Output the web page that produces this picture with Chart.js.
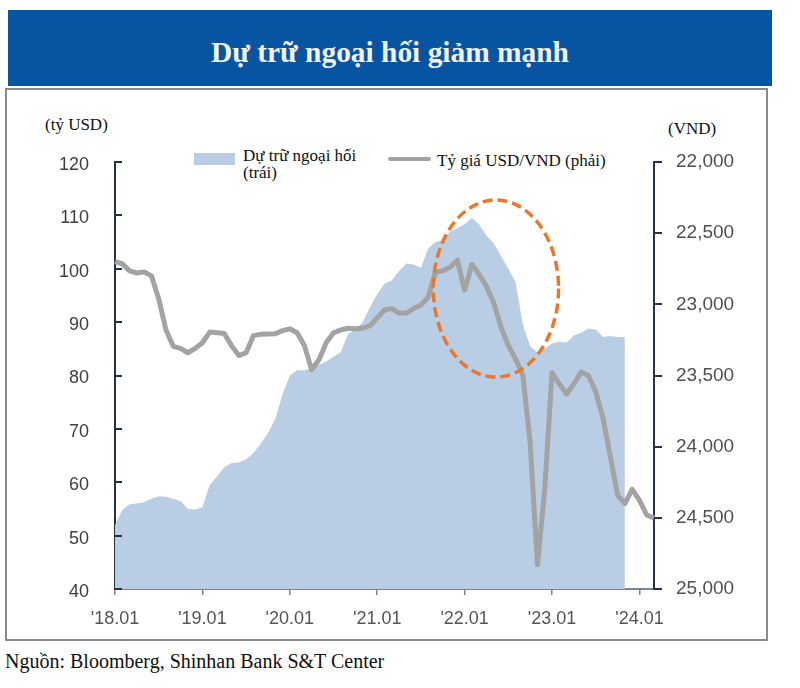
<!DOCTYPE html>
<html>
<head>
<meta charset="utf-8">
<script src="https://cdn.jsdelivr.net/npm/chart.js@4.4.1/dist/chart.umd.min.js"></script>
<style>
  html, body { margin: 0; padding: 0; background: #fff; }
  #wrap { position: relative; width: 800px; height: 688px; overflow: hidden;
          font-family: "Liberation Serif", "Times New Roman", serif; color: #111; }
  .abs { position: absolute; white-space: nowrap; }
  #banner { left: 8px; top: 10px; width: 764px; height: 76px; background: #0754a3; }
  #title { left: 8px; width: 764px; top: 35px; text-align: center; font-weight: bold;
           font-size: 30px; line-height: 33px; color: #f2f2f2; transform: scaleX(0.98); }
  #frame { left: 5px; top: 88px; width: 763px; height: 553px; border: 2px solid #8a8a8a; box-sizing: border-box; }
  .lbl { font-size: 17px; line-height: 17px; }
  #swatchArea { left: 194px; top: 153px; width: 41px; height: 12px; background: #b9cde5; }
  #swatchLine { left: 388px; top: 157px; width: 43px; height: 4px; background: #a3a3a3; border-radius: 2px; }
  #source { left: 5px; top: 651px; font-size: 20px; line-height: 20px; }
  canvas { position: absolute; left: 0; top: 0; }
</style>
</head>
<body>
<div id="wrap">
  <div class="abs" id="banner"></div>
  <div class="abs" id="title">Dự trữ ngoại hối giảm mạnh</div>
  <div class="abs" id="frame"></div>
  <div class="abs lbl" style="left:45px; top:116px;">(tỷ USD)</div>
  <div class="abs lbl" style="left:668px; top:120px;">(VND)</div>
  <div class="abs" id="swatchArea"></div>
  <div class="abs lbl" style="left:243px; top:147px;">Dự trữ ngoại hối<br>(trái)</div>
  <div class="abs" id="swatchLine"></div>
  <div class="abs lbl" style="left:437px; top:152px;">Tỷ giá USD/VND (phải)</div>
  <div class="abs" id="source">Nguồn: Bloomberg, Shinhan Bank S&amp;T Center</div>
  <canvas id="chart" width="800" height="688"></canvas>
</div>
<script>
const months = [
  '18.01','18.02','18.03','18.04','18.05','18.06','18.07','18.08','18.09','18.10','18.11','18.12',
  '19.01','19.02','19.03','19.04','19.05','19.06','19.07','19.08','19.09','19.10','19.11','19.12',
  '20.01','20.02','20.03','20.04','20.05','20.06','20.07','20.08','20.09','20.10','20.11','20.12',
  '21.01','21.02','21.03','21.04','21.05','21.06','21.07','21.08','21.09','21.10','21.11','21.12',
  '22.01','22.02','22.03','22.04','22.05','22.06','22.07','22.08','22.09','22.10','22.11','22.12',
  '23.01','23.02','23.03','23.04','23.05','23.06','23.07','23.08','23.09','23.10','23.11','23.12',
  '24.01','24.02','24.03'
];

// Foreign reserves, bn USD (left axis)
const reserves = [
  52.0, 54.8, 55.9, 56.0, 56.3, 56.9, 57.4, 57.3, 56.9, 56.5, 55.0, 54.9,
  55.3, 59.5, 61.1, 62.8, 63.6, 63.7, 64.3, 65.5, 67.2, 69.2, 71.8, 76.5,
  80.0, 81.0, 81.0, 81.4, 82.0, 82.6, 83.5, 84.4, 87.8, 88.6, 90.0, 92.8,
  95.2, 97.2, 97.8, 99.6, 101.0, 100.8, 100.2, 103.8, 105.0, 105.3, 107.0, 107.6,
  108.4, 109.5, 108.3, 106.2, 104.8, 102.4, 100.0, 97.5, 89.5, 85.5, 84.3, 85.0,
  86.0, 86.3, 86.2, 87.5, 88.0, 88.8, 88.6, 87.2, 87.4, 87.2, 87.2
];

// USD/VND rate (right axis, reversed)
const usdVnd = [
  22700, 22715, 22765, 22780, 22772, 22800, 22960, 23180, 23295, 23310, 23340, 23310,
  23270, 23195, 23200, 23205, 23290, 23360, 23340, 23220, 23211, 23208, 23207, 23185,
  23172, 23200, 23290, 23460, 23390, 23270, 23200, 23180, 23168, 23172, 23168, 23150,
  23096, 23040, 23030, 23061, 23061, 23030, 23005, 22950, 22773, 22765, 22740, 22690,
  22900, 22720, 22790, 22875, 22990, 23160, 23290, 23385, 23500, 23975, 24830, 24300,
  23480, 23560, 23630, 23560, 23475, 23500, 23615, 23800, 24070, 24340, 24400, 24300,
  24375, 24480, 24500
];

const yearMonths = ['18.01', '19.01', '20.01', '21.01', '22.01', '23.01', '24.01'];
const yearLabels = ["'18.01", "'19.01", "'20.01", "'21.01", "'22.01", "'23.01", "'24.01"];

// dashed ellipse highlighting the drop (in data units: month index / left axis)
const highlight = { xCenter: 52.3, yCenter: 96.3, xRadius: 8.6, yRadius: 16.6 };

const axisColor = '#243247';
const xAxisColor = '#76869c';
const tickFont = { family: '"Liberation Sans", Arial, sans-serif', size: 18 };

const ellipsePlugin = {
  id: 'ellipse',
  afterDatasetsDraw(chart) {
    const { ctx, scales: { x, y } } = chart;
    const cx = x.getPixelForValue(highlight.xCenter);
    const cy = y.getPixelForValue(highlight.yCenter);
    const rx = Math.abs(x.getPixelForValue(highlight.xCenter + highlight.xRadius) - cx);
    const ry = Math.abs(y.getPixelForValue(highlight.yCenter + highlight.yRadius) - cy);
    ctx.save();
    ctx.beginPath();
    ctx.ellipse(cx, cy, rx, ry, 0, 0, Math.PI * 2);
    ctx.setLineDash([10, 5]);
    ctx.lineWidth = 3.5;
    ctx.strokeStyle = '#e8792c';
    ctx.stroke();
    ctx.restore();
  }
};

// left axis has its tick marks pointing into the plot
const innerTicks = {
  id: 'innerTicks',
  afterDraw(chart) {
    const { ctx, chartArea, scales: { y } } = chart;
    ctx.save();
    ctx.strokeStyle = axisColor;
    ctx.lineWidth = 2;
    y.ticks.forEach(t => {
      const py = Math.round(y.getPixelForValue(t.value));
      ctx.beginPath();
      ctx.moveTo(chartArea.left, py);
      ctx.lineTo(chartArea.left + 7, py);
      ctx.stroke();
    });
    ctx.restore();
  }
};

new Chart(document.getElementById('chart'), {
  type: 'line',
  data: {
    labels: months,
    datasets: [
      {
        label: 'Tỷ giá USD/VND (phải)',
        data: usdVnd,
        yAxisID: 'y1',
        borderColor: '#a3a3a3',
        borderWidth: 5,
        pointRadius: 0,
        tension: 0,
        fill: false,
        borderJoinStyle: 'round',
        order: 1,
      },
      {
        label: 'Dự trữ ngoại hối (trái)',
        data: reserves,
        yAxisID: 'y',
        backgroundColor: '#b9cde5',
        borderColor: 'rgba(0,0,0,0)',
        borderWidth: 0,
        pointRadius: 0,
        tension: 0,
        fill: 'start',
        order: 2,
      },
    ],
  },
  options: {
    responsive: false,
    animation: false,
    layout: { padding: { top: 162, bottom: 59, left: 0, right: 0 } },
    plugins: { legend: { display: false }, tooltip: { enabled: false } },
    scales: {
      x: {
        z: 1,
        offset: false,
        afterFit: s => { s.height = 40; },
        afterBuildTicks: s => { s.ticks = s.ticks.filter(t => yearMonths.includes(months[t.value])); },
        grid: { drawOnChartArea: false, drawTicks: true, tickLength: 6, color: xAxisColor, lineWidth: 1.5 },
        border: { color: xAxisColor, width: 2 },
        ticks: {
          autoSkip: false,
          maxRotation: 0,
          padding: 13,
          color: '#555',
          font: tickFont,
          callback: v => yearLabels[yearMonths.indexOf(months[v])],
        },
      },
      y: {
        z: 1,
        position: 'left',
        min: 40,
        max: 120,
        afterFit: s => { s.width = 115; },
        grid: { display: false },
        border: { color: axisColor, width: 2 },
        ticks: { stepSize: 10, padding: 18, labelOffset: 3, color: '#404040', font: tickFont },
      },
      y1: {
        z: 1,
        position: 'right',
        min: 22000,
        max: 25000,
        reverse: true,
        afterFit: s => { s.width = 146; },
        grid: { drawOnChartArea: false, drawTicks: true, tickLength: 8, color: axisColor, lineWidth: 2 },
        border: { color: axisColor, width: 2 },
        ticks: { stepSize: 500, padding: 14, color: '#505050', font: { family: tickFont.family, size: 19 } },
      },
    },
  },
  plugins: [ellipsePlugin, innerTicks],
});
</script>
</body>
</html>
